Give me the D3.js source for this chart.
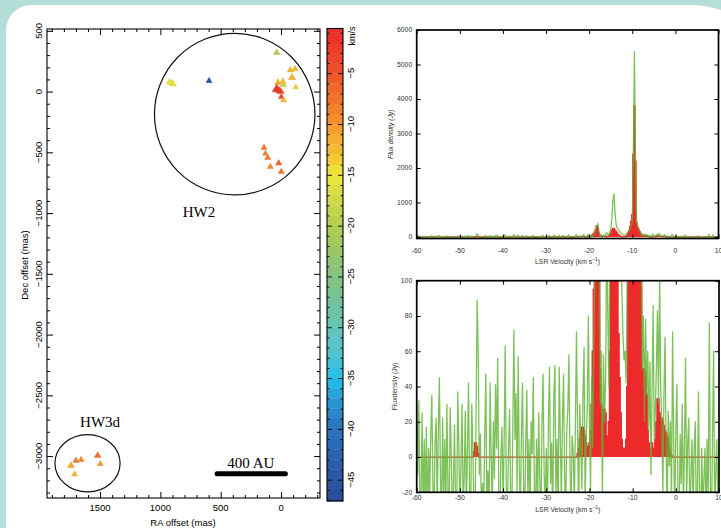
<!DOCTYPE html>
<html>
<head>
<meta charset="utf-8">
<script src="https://cdn.jsdelivr.net/npm/d3@7"></script>
<style>
  html, body { margin: 0; padding: 0; background: #fff; }
  svg { display: block; }
</style>
</head>
<body>
<svg id="fig" width="721" height="528"></svg>
<script>
// ---------------- Maser spot map (offsets in mas, VLSR in km/s) ----------------
const spotRA   = [36, -77, -116, -91, 25, -14, -19, -122, 36, 14, 0, -2, -22,
                  926, 906, 893, 597,
                  141, 130, 110, 19, 89, -2,
                  1741, 1700, 1658, 1711, 1520, 1498];
const spotDec  = [321, 176, 187, 115, 74, 82, 55, 36, 20, 6, -2, -44, -71,
                  77, 69, 61, 88,
                  -461, -510, -545, -589, -619, -660,
                  -3078, -3037, -3031, -3150, -2996, -3064];
const spotVel  = [-20.5, -12.5, -12.5, -12, -11.5, -13, -18, -13.5, -2, -4, -7, -3, -12.5,
                  -15.5, -16, -15.8, -45,
                  -8, -8.5, -8, -6, -9, -7.5,
                  -11, -8, -9, -12, -7, -10];
const spotFlux = [40, 30, 30, 120, 40, 60, 50, 15, 3800, 200, 90, 15, 30,
                  40, 40, 40, 25,
                  30, 12, 30, 30, 30, 30,
                  60, 30, 30, 25, 60, 20];

const mapXTicks = [1500, 1000, 500, 0];
const mapYTicks = [500, 0, -500, -1000, -1500, -2000, -2500, -3000];
const cbarTicks = [-5, -10, -15, -20, -25, -30, -35, -40, -45];

// Source regions: centre (mas) and radii (mas)
const regionNames = ["HW2", "HW3d"];
const regionRA    = [384, 1604];
const regionDec   = [-186, -3059];
const regionRadRA = [665, 270];
const regionRadDe = [665, 236];

// ---------------- Spectra (Jy), channels of 0.25 km/s from -60 km/s ----------------
const channelStart = -60, channelWidth = 0.25;
const totalFlux = [
  30, -10, 32, -30, -25, 25, -35, 10, -28, 17, -40, 5, -22, 12, 35, -15, -35, 8, 22, -30,
  15, 45, -10, -38, 22, -25, 10, -30, 30, -20, -35, 28, 2, -30, -18, 18, -26, -40, 37, 8,
  -32, -5, 30, -28, -12, 26, -33, 4, 42, -20, -35, 30, 5, -30, -42, 25, 89, 58, -10, 13,
  -38, -15, -30, 10, 47, -25, -8, -35, 42, 0, -30, 20, -12, 41, 5, 56, -20, -38, 2, 17,
  -28, 10, 63, -18, -35, 5, 27, -22, -40, 15, 72, 10, 36, -20, 57, -5, -30, 12, 42, -15,
  -38, 8, 38, -25, 10, -32, 20, 2, 45, -18, -35, 10, -28, 25, -12, -40, 18, 47, -8, -30,
  5, -36, 20, 51, -15, 8, -38, 35, 52, -22, 10, -30, 51, 12, -25, 20, 47, -10, -35, 15,
  28, 58, -5, -30, 12, 3, -28, 20, 71, 15, -35, 30, 8, -18, 35, 62, -25, 10, 28, 80,
  20, -20, 45, 5, 60, 110, 210, 300, 390, 180, 30, 60, -25, 58, 20, 45, 130, 80, 40, 140,
  220, 500, 1050, 1250, 700, 360, 260, 210, 170, 130, 95, 70, 55, 60, 42, 110, 140, 200, 260, 320,
  420, 2400, 5370, 2100, 480, 320, 230, 160, 110, 50, 80, 20, 78, 35, 60, 15, 54, -10, 40, 86,
  10, 26, 50, 83, 30, 105, 40, 18, -20, 35, 68, 5, -30, 26, -5, 20, -28, 71, 10, -35,
  15, 41, -20, -40, 13, -15, 30, -30, 5, 56, -25, 8, 22, -38, -10, 10, -30, 5, 20, -35,
  -18, 37, -25, -40, 5, -30, -12, 5, -38, 10, -22, 76, -15, -40, 12, 60, -30, -8, 10, -35, -20
];
const spotSumFlux = [
  0, 0, 0, 0, 0, 0, 0, 0, 0, 0, 0, 0, 0, 0, 0, 0, 0, 0, 0, 0,
  0, 0, 0, 0, 0, 0, 0, 0, 0, 0, 0, 0, 0, 0, 0, 0, 0, 0, 0, 0,
  0, 0, 0, 0, 0, 0, 0, 0, 0, 0, 0, 0, 0, 3, 8, 8, 6, 2, 0, 0,
  0, 0, 0, 0, 0, 0, 0, 0, 0, 0, 0, 0, 0, 0, 0, 0, 0, 0, 0, 0,
  0, 0, 0, 0, 0, 0, 0, 0, 0, 0, 0, 0, 0, 0, 0, 0, 0, 0, 0, 0,
  0, 0, 0, 0, 0, 0, 0, 0, 0, 0, 0, 0, 0, 0, 0, 0, 0, 0, 0, 0,
  0, 0, 0, 0, 0, 0, 0, 0, 0, 0, 0, 0, 0, 0, 0, 0, 0, 0, 0, 0,
  0, 0, 0, 0, 0, 0, 0, 0, 0, 2, 5, 10, 14, 17, 17, 15, 12, 8, 6, 5,
  8, 15, 30, 60, 95, 140, 220, 320, 280, 120, 50, 30, 28, 27, 27, 25, 12, 5, 20, 60,
  110, 180, 240, 250, 200, 160, 120, 70, 45, 25, 10, 5, 3, 5, 10, 40, 110, 160, 300, 450,
  650, 2400, 3800, 2200, 400, 280, 220, 150, 105, 45, 50, 50, 48, 36, 15, 8, 5, 5, 8, 5,
  5, 10, 20, 33, 33, 25, 22, 22, 20, 18, 15, 14, 12, 10, 6, 3, 1, 0, 0, 0,
  0, 0, 0, 0, 0, 0, 0, 0, 0, 0, 0, 0, 0, 0, 0, 0, 0, 0, 0, 0,
  0, 0, 0, 0, 0, 0, 0, 0, 0, 0, 0, 0, 0, 0, 0, 0, 0, 0, 0, 0, 0
];
const specXTicks = [-60, -50, -40, -30, -20, -10, 0, 10];
const fullYTicks = [0, 1000, 2000, 3000, 4000, 5000, 6000];
const zoomYTicks = [-20, 0, 20, 40, 60, 80, 100];

// Velocity colour table
const velStops = [
  [-0.6, "#ea2b2a"], [-5, "#ed532a"], [-8, "#f17a2b"], [-10, "#f5962c"], [-13, "#f4c133"],
  [-15, "#eee83d"], [-17, "#d3dc48"], [-20, "#b3cd52"], [-23, "#95c46c"], [-25, "#84c282"],
  [-28, "#71c2a0"], [-30, "#66c3b6"], [-33, "#4dc3d4"], [-35, "#22c0ec"], [-37, "#2a9ad5"],
  [-40, "#2b74bd"], [-44, "#2b5aa5"], [-47.1, "#2a4b96"]
];

// =====================================================================
const svg = d3.select("#fig");
const FONT = "'Liberation Sans', Arial, Helvetica, sans-serif";
const fmt = v => (v < 0 ? "\u2212" + Math.abs(v) : String(v));

// page backdrop
svg.append("rect").attr("width", 721).attr("height", 528).attr("fill", "#b5ded8");
svg.append("path")
  .attr("d", "M6,528 L6,31 A25,26 0 0 1 31,5 L688,5 Q706,5 721,10 L721,528 Z")
  .attr("fill", "#fff");

// inward ticks on one side of a frame, built from a d3 axis
function inwardTicks(g, scale, orient, pos, values, len, width) {
  const make = { bottom: d3.axisBottom, top: d3.axisTop, left: d3.axisLeft, right: d3.axisRight }[orient];
  const ax = make(scale).tickValues(values).tickSize(-len).tickFormat("");
  const horiz = orient === "bottom" || orient === "top";
  const a = g.append("g")
    .attr("transform", horiz ? `translate(0,${pos})` : `translate(${pos},0)`)
    .call(ax);
  a.select(".domain").remove();
  a.selectAll("line").attr("stroke", "#000").attr("stroke-width", width);
}

// ---------------- map ----------------
const mapBox = { x0: 47, x1: 320, y0: 29, y1: 498 };
const xMap = d3.scaleLinear().domain([1940, -323]).range([mapBox.x0, mapBox.x1]);
const yMap = d3.scaleLinear().domain([515, -3345]).range([mapBox.y0, mapBox.y1]);
const mapG = svg.append("g");

const xs = d3.range(-300, 1901, 100), ys = d3.range(-3300, 501, 100);
const isMajor = v => v % 500 === 0;
[["bottom", mapBox.y1], ["top", mapBox.y0]].forEach(([o, p]) => {
  inwardTicks(mapG, xMap, o, p, xs.filter(v => !isMajor(v)), 3, 1);
  inwardTicks(mapG, xMap, o, p, xs.filter(isMajor), 6, 1);
});
[["left", mapBox.x0], ["right", mapBox.x1]].forEach(([o, p]) => {
  inwardTicks(mapG, yMap, o, p, ys.filter(v => !isMajor(v)), 3, 1);
  inwardTicks(mapG, yMap, o, p, ys.filter(isMajor), 6, 1);
});
mapG.append("rect")
  .attr("x", mapBox.x0).attr("y", mapBox.y0)
  .attr("width", mapBox.x1 - mapBox.x0).attr("height", mapBox.y1 - mapBox.y0)
  .attr("fill", "none").attr("stroke", "#000").attr("stroke-width", 1.1);

mapG.selectAll("text.xl").data(mapXTicks).join("text")
  .attr("x", d => xMap(d)).attr("y", 510.5)
  .attr("text-anchor", "middle").attr("font-family", FONT).attr("font-size", 9.5)
  .text(fmt);
mapG.selectAll("text.yl").data(mapYTicks).join("text")
  .attr("transform", d => `translate(42,${yMap(d)}) rotate(-90)`)
  .attr("text-anchor", "middle").attr("font-family", FONT).attr("font-size", 9.5)
  .text(fmt);
mapG.append("text").attr("x", 183).attr("y", 526)
  .attr("text-anchor", "middle").attr("font-family", FONT).attr("font-size", 9.5)
  .text("RA offset (mas)");
mapG.append("text").attr("transform", "translate(28,265) rotate(-90)")
  .attr("text-anchor", "middle").attr("font-family", FONT).attr("font-size", 9.5)
  .text("Dec offset (mas)");

// source regions
regionNames.forEach((name, i) => {
  mapG.append("ellipse")
    .attr("cx", xMap(regionRA[i])).attr("cy", yMap(regionDec[i]))
    .attr("rx", Math.abs(xMap(regionRA[i] + regionRadRA[i]) - xMap(regionRA[i])))
    .attr("ry", Math.abs(yMap(regionDec[i] - regionRadDe[i]) - yMap(regionDec[i])))
    .attr("fill", "none").attr("stroke", "#111").attr("stroke-width", 1.2);
});
const serif = "'Liberation Serif', 'Times New Roman', serif";
mapG.append("text").attr("x", xMap(680)).attr("y", yMap(-1032))
  .attr("text-anchor", "middle").attr("font-family", serif).attr("font-size", 15).text("HW2");
mapG.append("text").attr("x", xMap(1500)).attr("y", yMap(-2758))
  .attr("text-anchor", "middle").attr("font-family", serif).attr("font-size", 15).text("HW3d");

// 400 AU scale bar
mapG.append("line")
  .attr("x1", xMap(530)).attr("x2", xMap(-36))
  .attr("y1", yMap(-3145)).attr("y2", yMap(-3145))
  .attr("stroke", "#000").attr("stroke-width", 5).attr("stroke-linecap", "round");
mapG.append("text").attr("x", xMap(250)).attr("y", yMap(-3100))
  .attr("text-anchor", "middle").attr("font-family", serif).attr("font-size", 15).text("400 AU");

// velocity colour scale
const velColor = d3.scaleLinear()
  .domain(velStops.map(s => s[0])).range(velStops.map(s => s[1]))
  .interpolate(d3.interpolateRgb).clamp(true);

// maser spots
const symSize = d3.scaleLog().domain([5, 4000]).range([10, 36]).clamp(true);
const spots = spotRA.map((ra, i) => ({ ra, dec: spotDec[i], v: spotVel[i], f: spotFlux[i] }))
  .sort((a, b) => a.f - b.f);
mapG.selectAll("path.spot").data(spots).join("path")
  .attr("transform", d => `translate(${xMap(d.ra)},${yMap(d.dec)})`)
  .attr("d", d => d3.symbol(d3.symbolTriangle, symSize(d.f))())
  .attr("fill", d => velColor(d.v))
  .attr("stroke", d => d3.color(velColor(d.v)).darker(0.3))
  .attr("stroke-width", 0.4);

// ---------------- colour bar ----------------
const cb = { x0: 327, x1: 343, y0: 28.5, y1: 501 };
const yCb = d3.scaleLinear().domain([-0.6, -47.1]).range([cb.y0, cb.y1]);
const cbG = svg.append("g");
const edges = [-0.6].concat(d3.range(-1, -48, -1)).concat([-47.1]);
const bands = d3.pairs(edges).filter(p => p[0] > p[1]);
cbG.selectAll("rect.band").data(bands).join("rect")
  .attr("x", cb.x0).attr("width", cb.x1 - cb.x0)
  .attr("y", d => yCb(d[0])).attr("height", d => yCb(d[1]) - yCb(d[0]) + 0.3)
  .attr("fill", d => velColor((d[0] + d[1]) / 2));
const cbMinor = d3.range(-1, -48, -1).filter(v => v % 5 !== 0);
const cbMajor = d3.range(-5, -48, -5);
[["left", cb.x0], ["right", cb.x1]].forEach(([o, p]) => {
  inwardTicks(cbG, yCb, o, p, cbMinor, 2.5, 0.9);
  inwardTicks(cbG, yCb, o, p, cbMajor, 5, 0.9);
});
cbG.append("rect")
  .attr("x", cb.x0).attr("y", cb.y0).attr("width", cb.x1 - cb.x0).attr("height", cb.y1 - cb.y0)
  .attr("fill", "none").attr("stroke", "#000").attr("stroke-width", 1.1);
cbG.selectAll("text.cl").data(cbarTicks).join("text")
  .attr("transform", d => `translate(354,${yCb(d)}) rotate(-90)`)
  .attr("text-anchor", "middle").attr("font-family", FONT).attr("font-size", 9.5)
  .text(fmt);
cbG.append("text").attr("transform", "translate(355,36) rotate(-90)")
  .attr("text-anchor", "middle").attr("font-family", FONT).attr("font-size", 9)
  .text("km/s");

// ---------------- spectra ----------------
const channels = totalFlux.map((t, i) => ({
  v: channelStart + i * channelWidth, total: t, spots: spotSumFlux[i]
}));
const SFONT = "'Liberation Sans', Arial, sans-serif";

function spectrum(id, box, yDomain, yTicks, yTitle, yTitleItalic, tickLabelY, titleY, yTitleX) {
  const g = svg.append("g");
  const x = d3.scaleLinear().domain([-60, 10]).range([box.x0, box.x1]);
  const y = d3.scaleLinear().domain(yDomain).range([box.y1, box.y0]);

  g.append("clipPath").attr("id", id).append("rect")
    .attr("x", box.x0).attr("y", box.y0).attr("width", box.x1 - box.x0).attr("height", box.y1 - box.y0);
  const plot = g.append("g").attr("clip-path", `url(#${id})`);

  // summed spot flux: filled steps
  plot.append("path").datum(channels)
    .attr("d", d3.area().curve(d3.curveStep)
      .x(d => x(d.v)).y0(y(0)).y1(d => y(d.spots)))
    .attr("fill", "#ec2a2b");
  plot.append("path").datum(channels)
    .attr("d", d3.line().curve(d3.curveStep).x(d => x(d.v)).y(d => y(d.spots)))
    .attr("fill", "none").attr("stroke", "#ec2a2b").attr("stroke-width", 1.3);

  // total-power spectrum
  plot.append("path").datum(channels)
    .attr("d", d3.line().x(d => x(d.v)).y(d => y(d.total)))
    .attr("fill", "none").attr("stroke", "#5fb533").attr("stroke-width", 1.3)
    .attr("stroke-opacity", 0.82).attr("stroke-linejoin", "round");

  // frame and ticks
  inwardTicks(g, x, "bottom", box.y1, specXTicks, 4, 1);
  inwardTicks(g, x, "top", box.y0, specXTicks, 4, 1);
  inwardTicks(g, y, "left", box.x0, yTicks, 4, 1);
  inwardTicks(g, y, "right", box.x1, yTicks, 4, 1);
  g.append("rect")
    .attr("x", box.x0).attr("y", box.y0).attr("width", box.x1 - box.x0).attr("height", box.y1 - box.y0)
    .attr("fill", "none").attr("stroke", "#000").attr("stroke-width", 1.7);

  g.selectAll("text.sx").data(specXTicks).join("text")
    .attr("x", d => x(d)).attr("y", tickLabelY)
    .attr("text-anchor", "middle").attr("font-family", SFONT).attr("font-size", 6.8).attr("fill", "#333")
    .text(d => d);
  g.selectAll("text.sy").data(yTicks).join("text")
    .attr("x", box.x0 - 4.5).attr("y", d => y(d) + 2.4)
    .attr("text-anchor", "end").attr("font-family", SFONT).attr("font-size", 6.8).attr("fill", "#333")
    .text(d => d);

  const xt = g.append("text").attr("x", (box.x0 + box.x1) / 2).attr("y", titleY)
    .attr("text-anchor", "middle").attr("font-family", SFONT).attr("font-size", 6.8).attr("fill", "#333");
  xt.append("tspan").text("LSR Velocity (km s");
  xt.append("tspan").attr("font-size", 5).attr("dy", -3).text("\u22121");
  xt.append("tspan").attr("dy", 3).text(")");

  g.append("text").attr("transform", `translate(${yTitleX},${(box.y0 + box.y1) / 2}) rotate(-90)`)
    .attr("text-anchor", "middle").attr("font-family", SFONT).attr("font-size", 6.8).attr("fill", "#333")
    .attr("font-style", yTitleItalic ? "italic" : "normal")
    .text(yTitle);
}

spectrum("clipFull", { x0: 416.7, x1: 718.5, y0: 30, y1: 238.5 }, [-45, 6000], fullYTicks,
  "Flux density (Jy)", true, 253, 264, 392.5);
spectrum("clipZoom", { x0: 416.7, x1: 719, y0: 280.7, y1: 492.3 }, [-20, 100], zoomYTicks,
  "Fluxdensity (Jy)", false, 500, 512, 396.5);
</script>
</body>
</html>
